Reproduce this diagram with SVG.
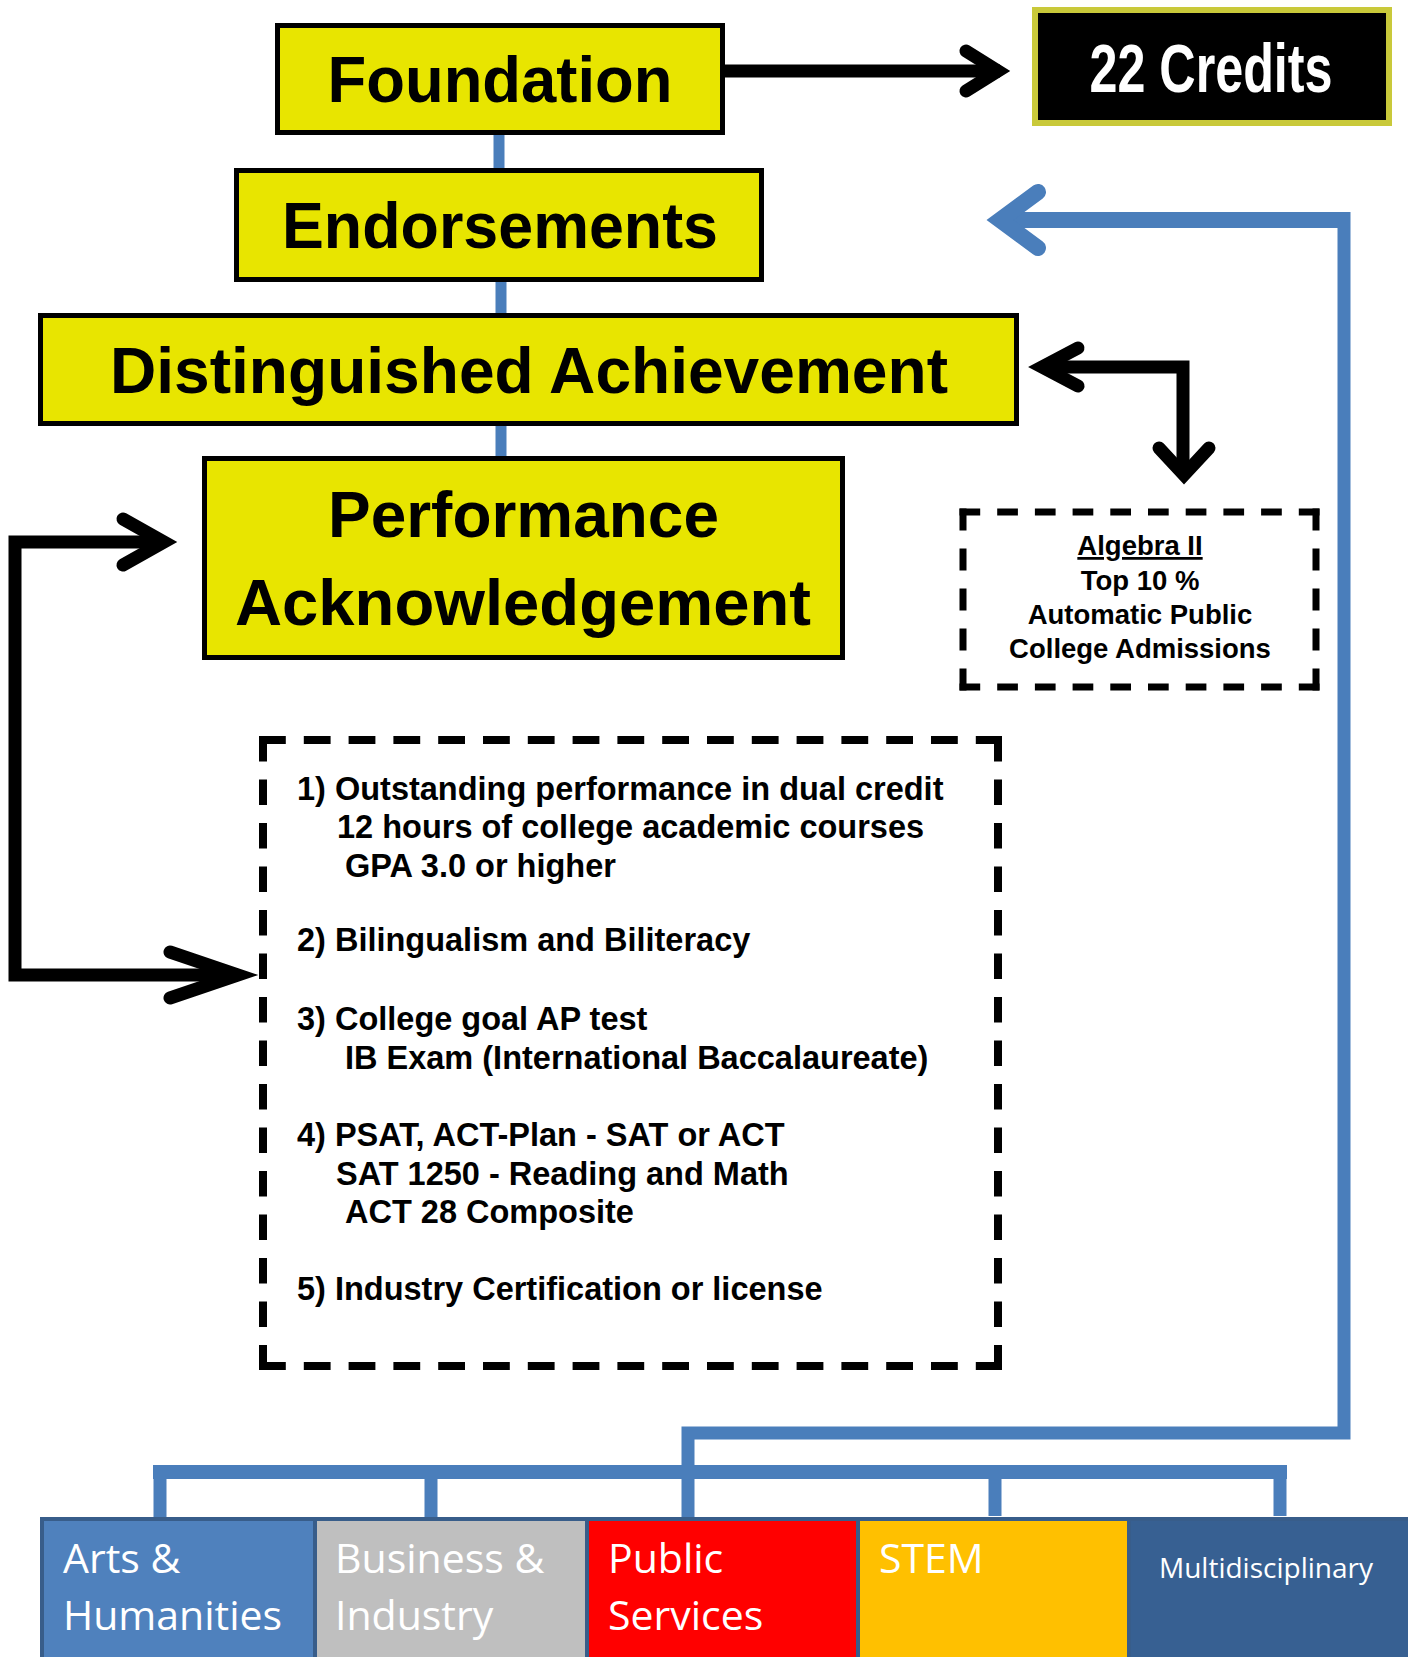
<svg xmlns="http://www.w3.org/2000/svg" width="1408" height="1657" viewBox="0 0 1408 1657">
<style>
.hbox{fill:#e8e500;stroke:#000;stroke-width:5}
.htxt{font-family:"Liberation Sans",Arial,sans-serif;font-weight:bold;font-size:64px;fill:#000;text-anchor:middle}
.blk{fill:none;stroke:#000;stroke-width:13}
.head{fill:none;stroke:#000;stroke-width:13;stroke-linecap:round;stroke-linejoin:miter;stroke-miterlimit:10}
.blue{fill:none;stroke:#4a7ebb;stroke-linejoin:miter}
.dash{stroke:#000;stroke-width:8;fill:none}
.dash2{stroke:#000;stroke-width:7;fill:none}
.body{font-family:"Liberation Sans",Arial,sans-serif;font-weight:bold;font-size:32.5px;fill:#000}
.alg{font-family:"Liberation Sans",Arial,sans-serif;font-weight:bold;font-size:27.5px;fill:#000;text-anchor:middle}
.cat{stroke:#385d8a;stroke-width:4}
.ctxt{font-family:"Open Sans","Liberation Sans",sans-serif;font-size:41px;fill:#fff}
</style>
<rect width="1408" height="1657" fill="#fff"/>
<g id="connectors">
  <path class="blue" stroke-width="11" d="M499 133 V172 M501 278 V317 M501 423 V461"/>
  <path class="blk" d="M725 71 H1000"/>
  <polyline class="head" points="966,51 998,71 966,91"/>
  <path class="blk" d="M1048 367 H1189.5 M1183 367 V468"/>
  <polyline class="head" points="1078,348 1042,367 1078,386"/>
  <polyline class="head" points="1159,448 1184,475 1209,448"/>
  <path class="blk" d="M164 542 H15 V975 H232" stroke-linejoin="miter"/>
  <polyline class="head" points="123,519 164,542 123,565"/>
  <polyline class="head" points="170,952 238,975 170,998"/>
  <path class="blue" stroke-width="16" d="M1006 220 H1350"/>
  <polyline class="blue" stroke-width="16" stroke-linecap="round" stroke-miterlimit="10" points="1038,192 1000,220 1038,248"/>
  <path class="blue" stroke-width="13" d="M1344 212 V1433 H688 V1519"/>
  <path class="blue" stroke-width="14" d="M153 1472 H1287"/>
  <path class="blue" stroke-width="13" d="M160 1472 V1519 M431 1472 V1519 M995 1472 V1516 M1280 1472 V1516"/>
</g>
<g id="foundation">
  <rect class="hbox" x="277.5" y="25.5" width="445" height="107"/>
  <text class="htxt" x="500" y="102" textLength="345" lengthAdjust="spacingAndGlyphs">Foundation</text>
</g>
<g id="credits">
  <rect x="1035" y="10" width="354" height="113" fill="#000" stroke="#c9c93a" stroke-width="6"/>
  <text x="1211" y="92" textLength="243" lengthAdjust="spacingAndGlyphs" style="font-family:'Liberation Sans',Arial,sans-serif;font-weight:bold;font-size:68px;fill:#fff;text-anchor:middle">22 Credits</text>
</g>
<g id="endorsements">
  <rect class="hbox" x="236.5" y="170.5" width="525" height="109"/>
  <text class="htxt" x="500" y="248" textLength="436" lengthAdjust="spacingAndGlyphs">Endorsements</text>
</g>
<g id="distinguished">
  <rect class="hbox" x="40.5" y="315.5" width="976" height="108"/>
  <text class="htxt" x="529" y="393" textLength="838" lengthAdjust="spacingAndGlyphs">Distinguished Achievement</text>
</g>
<g id="performance">
  <rect class="hbox" x="204.5" y="458.5" width="638" height="199"/>
  <text class="htxt" x="523.5" y="537" textLength="391" lengthAdjust="spacingAndGlyphs">Performance</text>
  <text class="htxt" x="523" y="625" textLength="576" lengthAdjust="spacingAndGlyphs">Acknowledgement</text>
</g>
<g id="algebra">
  <line class="dash2" x1="959.5" y1="512" x2="1319.5" y2="512" stroke-dasharray="20.7 17"/>
  <line class="dash2" x1="959.5" y1="687" x2="1319.5" y2="687" stroke-dasharray="20.7 17"/>
  <line class="dash2" x1="963" y1="508.5" x2="963" y2="690.5" stroke-dasharray="22 18"/>
  <line class="dash2" x1="1316" y1="508.5" x2="1316" y2="690.5" stroke-dasharray="22 18"/>
  <text class="alg" x="1140" y="555" text-decoration="underline">Algebra II</text>
  <text class="alg" x="1140" y="590">Top 10 %</text>
  <text class="alg" x="1140" y="624">Automatic Public</text>
  <text class="alg" x="1140" y="658">College Admissions</text>
</g>
<g id="criteria">
  <line class="dash" x1="259" y1="740" x2="1002" y2="740" stroke-dasharray="26.8 18"/>
  <line class="dash" x1="259" y1="1366" x2="1002" y2="1366" stroke-dasharray="26.8 18"/>
  <line class="dash" x1="263" y1="736" x2="263" y2="1370" stroke-dasharray="25.5 18"/>
  <line class="dash" x1="998" y1="736" x2="998" y2="1370" stroke-dasharray="25.5 18"/>
  <text class="body" x="297" y="800">1) Outstanding performance in dual credit</text>
  <text class="body" x="337" y="838">12 hours of  college academic courses</text>
  <text class="body" x="345" y="877">GPA 3.0 or higher</text>
  <text class="body" x="297" y="951">2) Bilingualism and Biliteracy</text>
  <text class="body" x="297" y="1030">3) College goal AP test</text>
  <text class="body" x="345" y="1069">IB Exam (International Baccalaureate)</text>
  <text class="body" x="297" y="1146">4) PSAT, ACT-Plan - SAT or ACT</text>
  <text class="body" x="336" y="1185">SAT 1250 - Reading and Math</text>
  <text class="body" x="345" y="1223">ACT 28 Composite</text>
  <text class="body" x="297" y="1300">5) Industry Certification or license</text>
</g>
<g id="arts">
  <rect class="cat" x="42" y="1519" width="273" height="160" fill="#4f81bd"/>
  <text class="ctxt" x="63" y="1573">Arts &amp;</text>
  <text class="ctxt" x="63" y="1630">Humanities</text>
</g>
<g id="business">
  <rect class="cat" x="315" y="1519" width="272" height="160" fill="#bfbfbf"/>
  <text class="ctxt" x="335" y="1573">Business &amp;</text>
  <text class="ctxt" x="335" y="1630">Industry</text>
</g>
<g id="public">
  <rect class="cat" x="587" y="1519" width="271" height="160" fill="#ff0000"/>
  <text class="ctxt" x="608" y="1573">Public</text>
  <text class="ctxt" x="608" y="1630">Services</text>
</g>
<g id="stem">
  <rect class="cat" x="858" y="1519" width="271" height="160" fill="#ffc000"/>
  <text class="ctxt" x="879" y="1573">STEM</text>
</g>
<g id="multi">
  <rect class="cat" x="1129" y="1519" width="281" height="160" fill="#376092"/>
  <text class="ctxt" x="1159" y="1578" style="font-size:28px">Multidisciplinary</text>
</g>
</svg>
